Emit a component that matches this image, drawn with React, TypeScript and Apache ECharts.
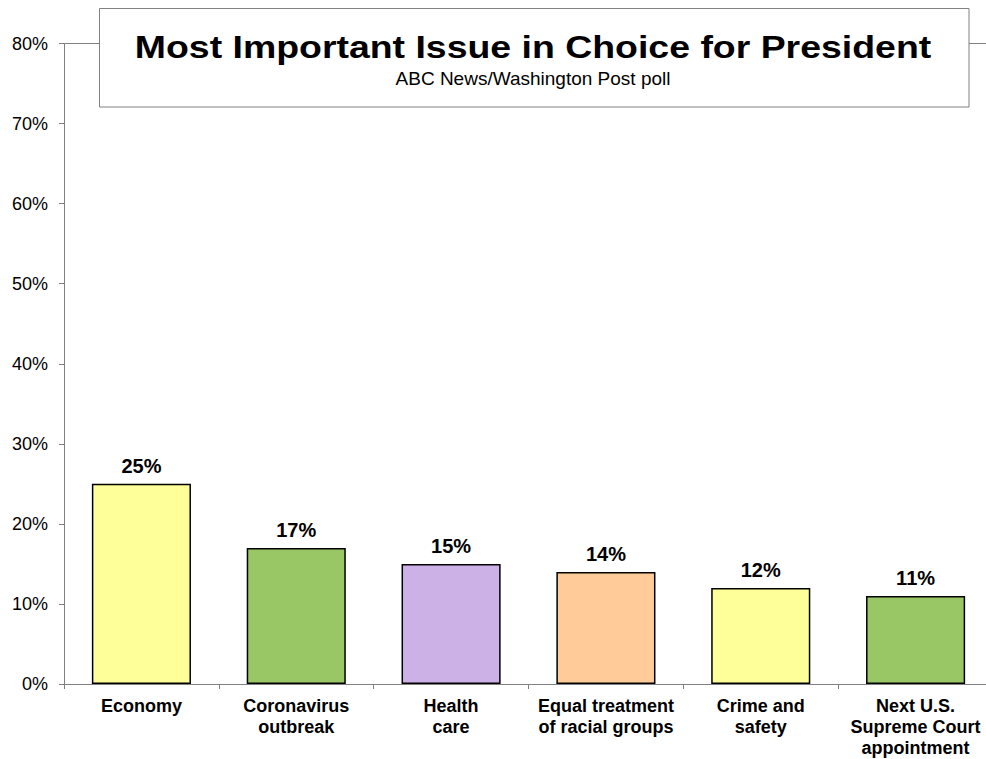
import React, { useEffect, useRef } from "react";
import * as echarts from "echarts";

const categories = [
  "Economy",
  "Coronavirus\noutbreak",
  "Health\ncare",
  "Equal treatment\nof racial groups",
  "Crime and\nsafety",
  "Next U.S.\nSupreme Court\nappointment",
];
const values = [25, 17, 15, 14, 12, 11];
const barColors = ["#FFFF99", "#99C766", "#CCB1E6", "#FFCC99", "#FFFF99", "#99C766"];
const titleText = "Most Important Issue in Choice for President";
const subtitleText = "ABC News/Washington Post poll";

const FONT = '"Liberation Sans", Arial, sans-serif';

export default function App() {
  const ref = useRef<HTMLDivElement>(null);
  useEffect(() => {
    if (!ref.current) return;
    const chart = echarts.init(ref.current, null, { renderer: "svg" });
    chart.setOption({
      animation: false,
      backgroundColor: "#ffffff",
      textStyle: { fontFamily: FONT },
      grid: { left: 64, right: 7, top: 43.5, bottom: 75 },
      xAxis: [
        {
          type: "category",
          data: categories,
          axisLine: { lineStyle: { color: "#808080", width: 1 } },
          axisTick: { show: true, length: 5, lineStyle: { color: "#808080" } },
          axisLabel: {
            interval: 0,
            margin: 11,
            color: "#000000",
            fontFamily: FONT,
            fontWeight: "bold",
            fontSize: 18,
            lineHeight: 21,
          },
        },
        {
          type: "category",
          position: "top",
          data: categories,
          axisLine: { show: true, lineStyle: { color: "#808080", width: 1 } },
          axisTick: { show: false },
          axisLabel: { show: false },
        },
      ],
      yAxis: {
        type: "value",
        min: 0,
        max: 80,
        interval: 10,
        axisLine: { show: true, lineStyle: { color: "#808080", width: 1 } },
        axisTick: { show: true, length: 5, lineStyle: { color: "#808080" } },
        splitLine: { show: false },
        axisLabel: {
          formatter: "{value}%",
          margin: 16,
          color: "#000000",
          fontFamily: FONT,
          fontSize: 18,
        },
      },
      series: [
        {
          type: "bar",
          xAxisIndex: 0,
          data: values.map((v, i) => ({
            value: v,
            itemStyle: { color: barColors[i] },
          })),
          barWidth: "64%",
          itemStyle: { borderColor: "#000000", borderWidth: 1.5 },
          label: {
            show: true,
            position: "top",
            distance: 8,
            formatter: "{c}%",
            color: "#000000",
            fontFamily: FONT,
            fontWeight: "bold",
            fontSize: 20,
          },
        },
      ],
      graphic: [
        {
          type: "rect",
          z: 100,
          shape: { x: 99.5, y: 8.5, width: 869.5, height: 98.5 },
          style: { fill: "#ffffff", stroke: "#808080", lineWidth: 1 },
        },
        {
          type: "text",
          z: 101,
          x: 533,
          y: 46.5,
          scaleX: 1.17,
          style: {
            text: titleText,
            fontFamily: FONT,
            fontWeight: "bold",
            fontSize: 32,
            fill: "#000000",
            align: "center",
            verticalAlign: "middle",
          },
        },
        {
          type: "text",
          z: 101,
          x: 533,
          y: 78,
          style: {
            text: subtitleText,
            fontFamily: FONT,
            fontSize: 19,
            fill: "#000000",
            align: "center",
            verticalAlign: "middle",
          },
        },
      ],
    });
    return () => chart.dispose();
  }, []);
  return (
    <div
      style={{
        position: "absolute",
        left: 0,
        top: 0,
        width: 986,
        height: 759,
        overflow: "hidden",
      }}
    >
      <div ref={ref} style={{ width: 1000, height: 759 }} />
    </div>
  );
}
